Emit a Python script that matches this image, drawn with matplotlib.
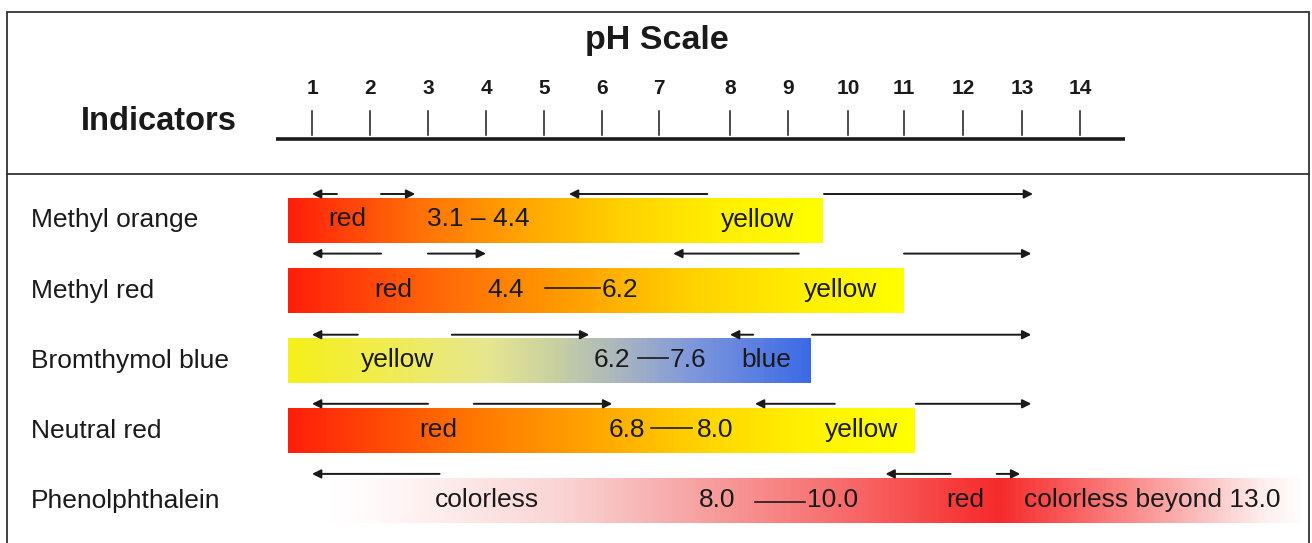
import numpy as np
import matplotlib
matplotlib.use("Agg")
import matplotlib.pyplot as plt
from matplotlib.colors import LinearSegmentedColormap
from matplotlib.patches import Rectangle

plt.rcParams['font.family'] = ['Liberation Sans', 'DejaVu Sans']

# pH scale ticks and where they sit on the drawing (the scale is not uniform)
ph_ticks = list(range(1, 15))
tick_px = [312, 370, 428, 486, 544, 602, 659, 730, 788, 848, 904, 963, 1022, 1080]

indicators = ["Methyl orange", "Methyl red", "Bromthymol blue", "Neutral red", "Phenolphthalein"]

# colour bar extent in pH units (start, end)
bar_start = [0.59, 0.59, 0.59, 0.59, 1.14]
bar_end = [9.58, 11.0, 9.38, 11.18, 18.0]

# colour stops along each bar
bar_colors = [
    [(0, '#ff1e0a'), (0.25, '#ff7208'), (0.45, '#ffa800'), (0.62, '#ffd000'), (0.8, '#ffee00'), (1, '#ffff00')],
    [(0, '#ff1e0a'), (0.25, '#ff6a08'), (0.45, '#ff9c00'), (0.65, '#ffd000'), (0.85, '#fff000'), (1, '#ffff00')],
    [(0, '#f5ef1a'), (0.18, '#f0ec50'), (0.38, '#e6e690'), (0.51, '#c8d0a0'), (0.64, '#a8b4c0'),
     (0.78, '#7d96dc'), (1, '#3c6ae6')],
    [(0, '#ff1e0a'), (0.3, '#ff7800'), (0.5, '#ffa800'), (0.68, '#ffd800'), (0.85, '#fff400'), (1, '#ffff00')],
    [(0, '#ffffff'), (0.05, '#fffafa'), (0.24, '#fad4d4'), (0.37, '#f7a5a5'), (0.53, '#f76a6a'),
     (0.63, '#f74040'), (0.685, '#f52a2a'), (0.73, '#f84848'), (0.86, '#fba8a8'), (0.955, '#fdeeee'),
     (1, '#ffffff')],
]

# arrows above the bars: (row, from pH, to pH)
arrows = [
    (0, 1.43, 1.0), (0, 2.19, 2.78), (0, 7.68, 5.43), (0, 9.6, 13.19),
    (1, 2.19, 1.0), (1, 3.0, 4.0), (1, 9.18, 7.2), (1, 11.0, 13.16),
    (2, 1.79, 1.0), (2, 3.41, 5.78), (2, 8.4, 8.0), (2, 9.4, 13.16),
    (3, 3.0, 1.0), (3, 3.79, 6.18), (3, 9.78, 8.43), (3, 11.2, 13.16),
    (4, 3.2, 1.0), (4, 11.79, 10.67), (4, 12.57, 12.97),
]

# texts inside the bars: (row, pH position, text)
bar_texts = [
    (0, 1.60, "red"), (0, 3.86, "3.1 – 4.4"), (0, 8.47, "yellow"),
    (1, 2.40, "red"), (1, 4.33, "4.4"), (1, 6.32, "6.2"), (1, 9.87, "yellow"),
    (2, 2.47, "yellow"), (2, 6.17, "6.2"), (2, 7.41, "7.6"), (2, 8.62, "blue"),
    (3, 3.17, "red"), (3, 6.44, "6.8"), (3, 7.79, "8.0"), (3, 10.25, "yellow"),
    (4, 4.02, "colorless"), (4, 7.82, "8.0"), (4, 9.75, "10.0"), (4, 12.03, "red"),
    (4, 15.24, "colorless beyond 13.0"),
]

# dashes between range values: (row, from pH, to pH)
dashes = [(1, 5.02, 5.97), (2, 6.63, 7.13), (3, 6.86, 7.46), (4, 8.43, 9.28)]

W, H = 1312, 543
slope = 58.0
ph_arr = np.array(ph_ticks, float)
px_arr = np.array(tick_px, float)


def fwd(x):
    x = np.asarray(x, float)
    y = np.interp(x, ph_arr, px_arr)
    y = np.where(x < ph_arr[0], px_arr[0] + (x - ph_arr[0]) * slope, y)
    y = np.where(x > ph_arr[-1], px_arr[-1] + (x - ph_arr[-1]) * slope, y)
    return y


def inv(p):
    p = np.asarray(p, float)
    x = np.interp(p, px_arr, ph_arr)
    x = np.where(p < px_arr[0], ph_arr[0] + (p - px_arr[0]) / slope, x)
    x = np.where(p > px_arr[-1], ph_arr[-1] + (p - px_arr[-1]) / slope, x)
    return x


fig = plt.figure(figsize=(W / 100, H / 100), dpi=100)
ax = fig.add_axes([0, 0, 1, 1])
ax.set_xscale('function', functions=(fwd, inv))
ax.set_xlim(float(inv(0)), float(inv(W)))
ax.set_ylim(H, 0)
ax.axis('off')

ink = '#1a1a1a'

# frame and separator
ax.add_patch(Rectangle((7 / W, -0.05), 1302 / W, 1.05 - 12 / H, transform=ax.transAxes,
                       fill=False, edgecolor='#333333', lw=1.3, zorder=10))
ax.plot([7 / W, 1309 / W], [1 - 174 / H, 1 - 174 / H], transform=ax.transAxes,
        color='#333333', lw=1.3, zorder=10)

# header: pH scale
ax.text(float(inv(657)), 40, "pH Scale", ha='center', va='center', fontsize=24.5,
        fontweight='bold', color=ink)
ax.text(float(inv(159)), 121, "Indicators", ha='center', va='center', fontsize=23.5,
        fontweight='bold', color=ink)
ax.plot([float(inv(276)), float(inv(1125))], [139, 139], color=ink, lw=2.6, solid_capstyle='butt')
for t in ph_ticks:
    ax.plot([t, t], [111, 135], color=ink, lw=1.1)
    ax.text(t, 89, str(t), ha='center', va='center', fontsize=15, fontweight='bold', color=ink)

row_y = [220.5 + 70.1 * i for i in range(len(indicators))]
arrow_gap = [26.5, 37, 26, 27, 27]
half = 22.5

for i, name in enumerate(indicators):
    y = row_y[i]
    ax.text(float(inv(31)), y, name, ha='left', va='center', fontsize=19, color=ink)

    cmap = LinearSegmentedColormap.from_list(name, bar_colors[i])
    px = np.linspace(fwd(bar_start[i]), fwd(bar_end[i]), 400)
    xs = inv(px)
    c = np.linspace(0, 1, len(xs) - 1).reshape(1, -1)
    ax.pcolormesh(xs, [y - half, y + half], c, cmap=cmap, shading='flat',
                  edgecolors='none', antialiased=False, zorder=1)

for row, x0, x1 in arrows:
    y = row_y[row] - arrow_gap[row]
    ax.annotate("", xy=(x1, y), xytext=(x0, y),
                arrowprops=dict(arrowstyle='-|>', mutation_scale=13, lw=1.4,
                                color=ink, shrinkA=0, shrinkB=0), zorder=5)

for row, x, s in bar_texts:
    ax.text(x, row_y[row] - 1, s, ha='center', va='center', fontsize=19, color=ink, zorder=6)

for row, x0, x1 in dashes:
    dy = 1 if row == 4 else -3
    ax.plot([x0, x1], [row_y[row] + dy, row_y[row] + dy], color=ink, lw=1.2, zorder=6)

fig.savefig("out.png", dpi=100)
